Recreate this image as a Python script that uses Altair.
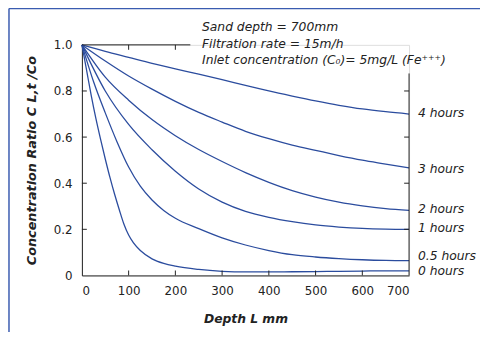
import altair as alt
import pandas as pd

# ---- data ----
x_4h = [0, 50, 100, 150, 200, 250, 300, 350, 400, 450, 500, 550, 600, 650, 700]
y_4h = [1.0, 0.972, 0.946, 0.92, 0.896, 0.873, 0.849, 0.824, 0.80, 0.778, 0.757, 0.738, 0.722, 0.71, 0.70]

x_3h = [0, 50, 100, 150, 200, 250, 300, 350, 400, 450, 500, 550, 600, 650, 700]
y_3h = [1.0, 0.93, 0.865, 0.808, 0.755, 0.707, 0.665, 0.625, 0.593, 0.565, 0.542, 0.52, 0.50, 0.483, 0.466]

x_2h = [0, 50, 100, 150, 200, 250, 300, 350, 400, 450, 500, 550, 600, 650, 700]
y_2h = [1.0, 0.86, 0.76, 0.676, 0.606, 0.546, 0.494, 0.446, 0.404, 0.368, 0.34, 0.318, 0.302, 0.29, 0.282]

x_1h = [0, 50, 100, 150, 200, 250, 300, 350, 400, 450, 500, 550, 600, 650, 700]
y_1h = [1.0, 0.80, 0.655, 0.545, 0.452, 0.375, 0.318, 0.278, 0.252, 0.233, 0.219, 0.21, 0.204, 0.201, 0.2]

x_05h = [0, 25, 50, 75, 100, 125, 150, 175, 200, 250, 300, 350, 400, 450, 500, 550, 600, 650, 700]
y_05h = [1.0, 0.84, 0.705, 0.58, 0.47, 0.387, 0.327, 0.282, 0.248, 0.203, 0.163, 0.132, 0.108, 0.09, 0.08, 0.073, 0.068, 0.065, 0.064]

x_0h = [0, 10, 20, 30, 40, 50, 60, 70, 80, 90, 100, 110, 125, 150, 175, 200, 250, 300, 350, 400, 450, 500, 550, 600, 650, 700]
y_0h = [1.0, 0.89, 0.78, 0.68, 0.59, 0.505, 0.425, 0.352, 0.285, 0.222, 0.175, 0.142, 0.108, 0.072, 0.052, 0.04, 0.026, 0.018, 0.015, 0.015, 0.016, 0.017, 0.018, 0.019, 0.02, 0.02]

series_names = ["4 hours", "3 hours", "2 hours", "1 hours", "0.5 hours", "0 hours"]
series_x = [x_4h, x_3h, x_2h, x_1h, x_05h, x_0h]
series_y = [y_4h, y_3h, y_2h, y_1h, y_05h, y_0h]
label_y = [0.705, 0.462, 0.29, 0.205, 0.085, 0.017]

x_ticks = [0, 100, 200, 300, 400, 500, 600, 700]
y_ticks = [0, 0.2, 0.4, 0.6, 0.8, 1.0]
inner_x_ticks = [100, 200, 300, 400, 500, 600]
inner_y_ticks = [0.2, 0.4, 0.6, 0.8]
top_ticks = [100, 200]
top_axis_end = 232
right_axis_end = 0.876

notes = ["Sand depth = 700mm", "Filtration rate = 15m/h",
         "Inlet concentration (C\u2080)= 5mg/L (Fe\u207a\u207a\u207a)"]
notes_y = [1.077, 1.005, 0.932]
notes_x = 257

# ---- build tables ----
rows = []
for name, xs, ys in zip(series_names, series_x, series_y):
    for xv, yv in zip(xs, ys):
        rows.append({"series": name, "depth": xv, "ratio": yv})
df = pd.DataFrame(rows)
lab_df = pd.DataFrame({"series": series_names, "depth": [700] * 6, "ratio": label_y})
note_df = pd.DataFrame({"text": notes, "depth": [notes_x] * 3, "ratio": notes_y})

W, H = 332, 234
FONT = "DejaVu Sans"
BLUE = "#2b4c9e"
AX = "#222222"

xs = alt.Scale(domain=[0, 700], nice=False)
ys = alt.Scale(domain=[0, 1], nice=False)

lines = alt.Chart(df).mark_line(color=BLUE, strokeWidth=1.3, clip=False,
                                interpolate="monotone").encode(
    x=alt.X("depth:Q", scale=xs, axis=alt.Axis(
        values=x_ticks, title="Depth L mm", tickSize=0, domainColor=AX, labelColor=AX,
        labelFont=FONT, labelFontSize=12, labelPadding=10, grid=False,
        titleFont=FONT, titleFontSize=12.5, titleFontStyle="italic", titleFontWeight="bold",
        titleColor=AX, titlePadding=17)),
    y=alt.Y("ratio:Q", scale=ys, axis=alt.Axis(
        values=y_ticks, title="Concentration Ratio C L,t /Co", tickSize=0, domainColor=AX,
        labelColor=AX, labelFont=FONT, labelFontSize=12, labelPadding=10, grid=False,
        labelExpr="datum.value == 0 ? '0' : format(datum.value, '.1f')",
        titleFont=FONT, titleFontSize=13, titleFontStyle="italic", titleFontWeight="bold",
        titleColor=AX, titlePadding=15)),
    detail="series:N",
)

tick_b = alt.Chart(pd.DataFrame({"v": inner_x_ticks})).mark_rule(color=AX).encode(
    x="v:Q", y=alt.value(H), y2=alt.value(H - 5))
tick_t = alt.Chart(pd.DataFrame({"v": top_ticks})).mark_rule(color=AX).encode(
    x="v:Q", y=alt.value(0), y2=alt.value(5))
tick_l = alt.Chart(pd.DataFrame({"v": inner_y_ticks})).mark_rule(color=AX).encode(
    y="v:Q", x=alt.value(0), x2=alt.value(5))
tick_r = alt.Chart(pd.DataFrame({"v": inner_y_ticks})).mark_rule(color=AX).encode(
    y="v:Q", x=alt.value(W), x2=alt.value(W - 5))
top_dom = alt.Chart(pd.DataFrame({"a": [0], "b": [top_axis_end]})).mark_rule(color=AX).encode(
    x="a:Q", x2="b:Q", y=alt.value(0))
right_dom = alt.Chart(pd.DataFrame({"a": [0], "b": [right_axis_end]})).mark_rule(color=AX).encode(
    y="a:Q", y2="b:Q", x=alt.value(W))

labels = alt.Chart(lab_df).mark_text(align="left", baseline="middle", dx=9, font=FONT,
                                     fontSize=12.5, fontStyle="italic", color=AX).encode(
    x="depth:Q", y="ratio:Q", text="series:N")
note_txt = alt.Chart(note_df).mark_text(align="left", baseline="middle", font=FONT,
                                        fontSize=12.5, fontStyle="italic", color=AX).encode(
    x="depth:Q", y="ratio:Q", text="text:N")

frame_top = alt.Chart(pd.DataFrame({"k": [0]})).mark_rule(color="#3a5bb0", strokeWidth=1.5).encode(
    x=alt.value(-74), x2=alt.value(420), y=alt.value(-37))
frame_left = alt.Chart(pd.DataFrame({"k": [0]})).mark_rule(color="#3a5bb0", strokeWidth=1.5).encode(
    x=alt.value(-74), y=alt.value(-37), y2=alt.value(310))

chart = alt.layer(lines, tick_b, tick_t, tick_l, tick_r, top_dom, right_dom, labels, note_txt,
                  frame_top, frame_left).properties(
    width=W, height=H,
    autosize=alt.AutoSizeParams(type="none"),
    padding={"left": 75, "top": 35, "right": 72, "bottom": 55},
).configure_view(stroke=None).configure(background="white")

chart.save("out.html", embed_options={"renderer": "svg", "actions": False})
